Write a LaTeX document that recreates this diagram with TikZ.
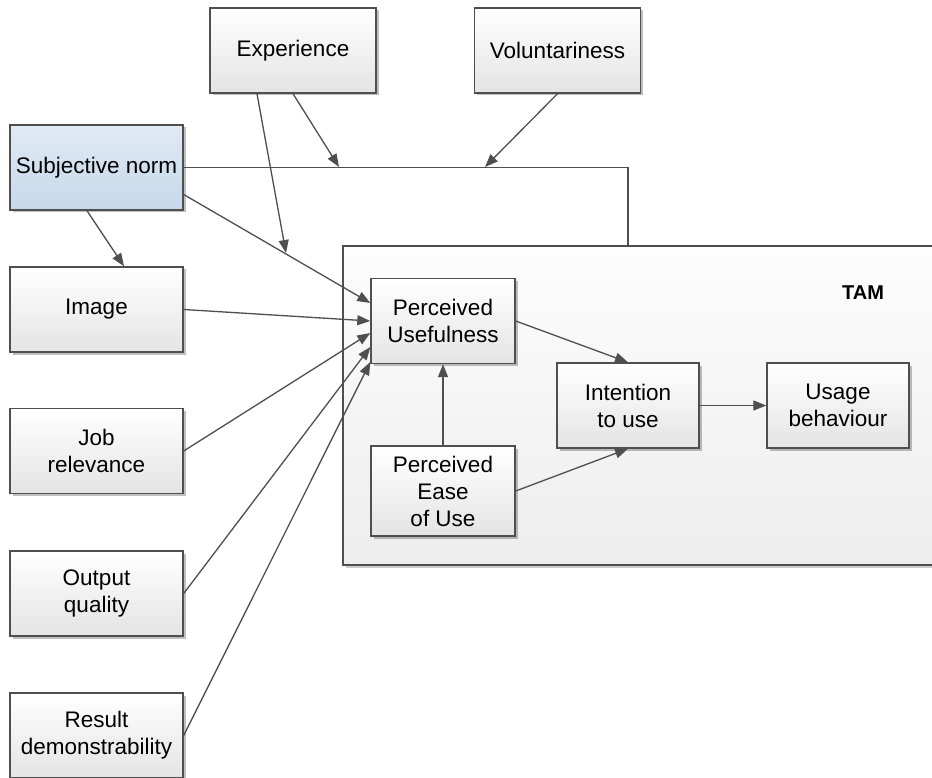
\documentclass[tikz,border=0pt]{standalone}
\usepackage{fontspec}
\setmainfont{Liberation Sans}
\usetikzlibrary{arrows.meta,shadows,calc}
\definecolor{linegray}{HTML}{4F4F4F}
\definecolor{boxbot}{HTML}{E4E4E4}
\definecolor{snTop}{HTML}{E0EAF4}
\definecolor{snBot}{HTML}{C6D8EA}
\definecolor{tamTop}{HTML}{FDFDFD}
\definecolor{tamBot}{HTML}{EDEDED}
\tikzset{
  box/.style={draw=linegray, line width=1.4pt, rectangle, inner sep=0pt,
    top color=white, bottom color=boxbot, align=center,
    font=\fontsize{22.5}{27}\selectfont,
    drop shadow={shadow xshift=2.5pt, shadow yshift=-2.5pt, opacity=0.25, fill=black}},
  sidebox/.style={box, minimum width=173pt, minimum height=85pt},
  topbox/.style={box, minimum width=166pt, minimum height=85pt},
  innerbox/.style={box, minimum width=144pt, minimum height=85pt},
  blue box/.style={top color=snTop, bottom color=snBot},
  container/.style={draw=linegray, line width=1.4pt, rectangle, inner sep=0pt,
    top color=tamTop, bottom color=tamBot,
    drop shadow={shadow xshift=2.5pt, shadow yshift=-2.5pt, opacity=0.2, fill=black}},
  conn/.style={draw=linegray, line width=1.3pt},
  arr/.style={conn, -{Triangle[length=13pt,width=10pt]}},
}
\begin{document}
\begin{tikzpicture}[x=1pt,y=-1pt]
  \clip (0,0) rectangle (932,778);
  \fill[white] (0,0) rectangle (932,778);

  % TAM container
  \node[container, minimum width=600pt, minimum height=319pt] (tam) at (643,405.5) {};
  \node[font=\fontsize{20}{24}\selectfont\bfseries] (tamlabel) at (863,293) {TAM};

  % moderators on top
  \node[topbox] (exp) at (293,50.5) {Experience};
  \node[topbox] (vol) at (557.5,50.5) {Voluntariness};

  % determinants on the left
  \node[sidebox, blue box] (sn) at (96.5,167.5) {Subjective norm};
  \node[sidebox] (img) at (96.5,309.5) {Image};
  \node[sidebox] (job) at (96.5,451) {Job\\relevance};
  \node[sidebox] (out) at (96.5,593.5) {Output\\quality};
  \node[sidebox] (res) at (96.5,735.5) {Result\\demonstrability};

  % TAM core
  \node[innerbox] (pu) at (443,321) {Perceived\\Usefulness};
  \node[innerbox, minimum height=90pt] (peou) at (443,491) {Perceived\\Ease\\of Use};
  \node[innerbox, minimum width=142pt] (iu) at (628,405.5) {Intention\\to use};
  \node[innerbox, minimum width=142pt] (ub) at (838,405.5) {Usage\\behaviour};

  % subjective norm line into the TAM box
  \coordinate (join) at (628,246);
  \draw[conn] (sn.east) -| (join);

  % moderating arrows onto the subjective norm line
  \coordinate (expOnLine) at (339,167);
  \coordinate (volOnLine) at (485,167);
  \coordinate (expTip) at (286,253);
  \draw[arr] (exp.south) -- (expOnLine);
  \draw[arr] (vol.south) -- (volOnLine);
  \draw[arr] ($(exp.south)+(-36,0)$) -- (expTip);

  % determinants to perceived usefulness
  \draw[arr] ($(sn.east)+(0,27)$) -- ($(pu.west)+(0,-18)$);
  \draw[arr] ($(sn.south)+(-9.5,0)$) -- ($(img.north)+(27.5,0)$);
  \draw[arr] (img.east) -- (pu.west);
  \draw[arr] (job.east) -- ($(pu.west)+(0,12)$);
  \draw[arr] (out.east) -- ($(pu.west)+(0,26)$);
  \draw[arr] (res.east) -- ($(pu.west)+(0,41)$);

  % TAM relations
  \draw[arr] (pu.east) -- (iu.north);
  \draw[arr] (peou.east) -- (iu.south);
  \draw[arr] (peou.north) -- (pu.south);
  \draw[arr] (iu.east) -- (ub.west);
\end{tikzpicture}
\end{document}
